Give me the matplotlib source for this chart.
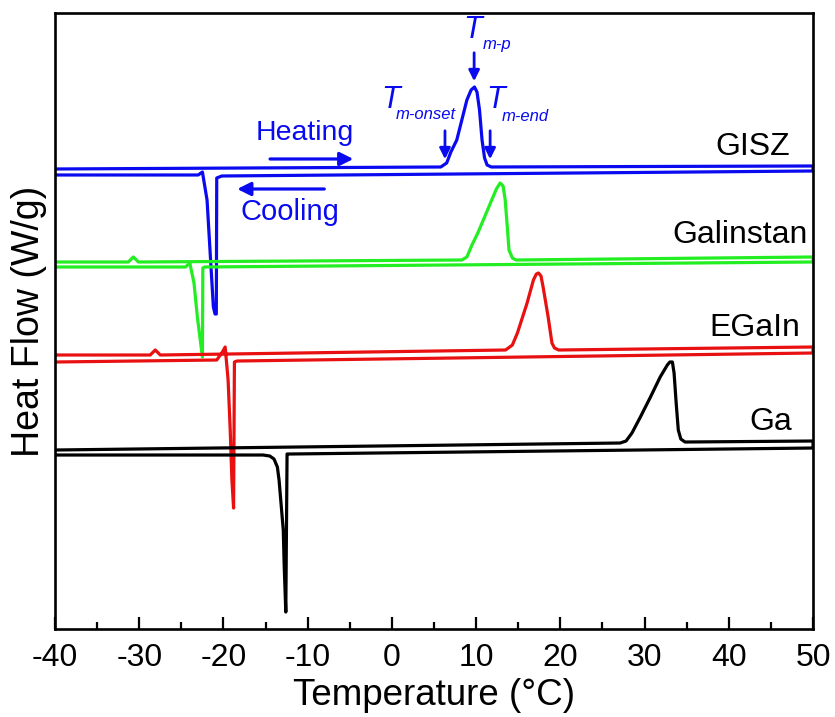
import numpy as np
import matplotlib.pyplot as plt
from matplotlib.ticker import MultipleLocator

plt.rcParams['font.family'] = ['Liberation Sans', 'DejaVu Sans']
plt.rcParams['axes.unicode_minus'] = False

# heating (upper) and cooling (lower) traces, temperature in C, heat flow in W/g (offset)
gisz_heat_T = [-40, 5.8, 6.5, 7.0, 7.7, 8.3, 8.9, 9.4, 9.8, 10.1, 10.4, 10.7, 11.0, 11.3, 11.8, 50]
gisz_heat_HF = [4.60, 4.62, 4.66, 4.77, 4.89, 5.09, 5.29, 5.39, 5.42, 5.37, 5.19, 4.89, 4.71, 4.64, 4.62, 4.63]
gisz_cool_T = [-40, -23.0, -22.5, -21.95, -21.6, -21.2, -21.0, -20.85, -20.8, -20.2, 50]
gisz_cool_HF = [4.54, 4.54, 4.57, 4.29, 3.79, 3.22, 3.15, 3.15, 4.51, 4.53, 4.58]

galin_heat_T = [-40, -31.3, -30.7, -30.1, 8.3, 8.9, 9.5, 10.2, 11.7, 12.4, 12.85, 13.2, 13.45, 13.7, 13.9, 14.3, 14.75, 50]
galin_heat_HF = [3.67, 3.67, 3.72, 3.67, 3.69, 3.72, 3.84, 3.96, 4.26, 4.40, 4.46, 4.43, 4.29, 4.02, 3.79, 3.71, 3.69, 3.72]
galin_cool_T = [-40, -24.5, -24.0, -23.5, -23.1, -22.5, -22.45, -22.2, 50]
galin_cool_HF = [3.62, 3.62, 3.66, 3.46, 3.12, 2.72, 3.61, 3.62, 3.67]

egain_heat_T = [-40, -28.7, -28.1, -27.5, 13.5, 14.3, 14.9, 16.05, 16.8, 17.15, 17.4, 17.7, 17.95, 18.55, 19.0, 19.3, 19.8, 50]
egain_heat_HF = [2.74, 2.74, 2.79, 2.74, 2.79, 2.84, 2.96, 3.26, 3.49, 3.55, 3.56, 3.53, 3.42, 3.12, 2.86, 2.81, 2.79, 2.82]
egain_cool_T = [-40, -20.8, -20.2, -19.8, -19.45, -19.2, -19.0, -18.8, -18.7, -18.4, 50]
egain_cool_HF = [2.67, 2.69, 2.76, 2.82, 2.49, 1.99, 1.49, 1.21, 2.67, 2.68, 2.76]

ga_heat_T = [-40, 27.1, 27.8, 28.5, 29.5, 30.7, 31.85, 32.7, 33.0, 33.3, 33.5, 33.75, 34.0, 34.3, 34.8, 50]
ga_heat_HF = [1.79, 1.86, 1.88, 1.96, 2.12, 2.32, 2.52, 2.64, 2.67, 2.67, 2.56, 2.26, 1.99, 1.90, 1.87, 1.88]
ga_cool_T = [-40, -15.3, -14.5, -14.0, -13.6, -13.4, -13.2, -12.9, -12.8, -12.6, -12.45, -12.2, 50]
ga_cool_HF = [1.74, 1.74, 1.73, 1.70, 1.62, 1.49, 1.29, 0.99, 0.66, 0.17, 1.75, 1.75, 1.81]

samples = ['GISZ', 'Galinstan', 'EGaIn', 'Ga']
colors = ['#0a0af0', '#22ee22', '#e81010', 'black']
heat_T = [gisz_heat_T, galin_heat_T, egain_heat_T, ga_heat_T]
heat_HF = [gisz_heat_HF, galin_heat_HF, egain_heat_HF, ga_heat_HF]
cool_T = [gisz_cool_T, galin_cool_T, egain_cool_T, ga_cool_T]
cool_HF = [gisz_cool_HF, galin_cool_HF, egain_cool_HF, ga_cool_HF]
label_xy = [(47.3, 4.82), (49.4, 3.94), (48.5, 3.01), (47.5, 2.07)]

fig = plt.figure(figsize=(8.35, 7.17), dpi=100)
ax = fig.add_axes([0.0659, 0.1227, 0.9078, 0.8592])

for i in range(4):
    # one loop: heating from -40 to 50, then cooling back
    T = list(heat_T[i]) + list(cool_T[i])[::-1]
    HF = list(heat_HF[i]) + list(cool_HF[i])[::-1]
    ax.plot(T, HF, color=colors[i], lw=2.3, solid_joinstyle='round')
    ax.text(label_xy[i][0], label_xy[i][1], samples[i], fontsize=23,
            ha='right', va='center')

blue = '#0a0af0'
# heating / cooling arrows
ax.text(-10.3, 4.96, 'Heating', color=blue, fontsize=20.5, ha='center', va='center')
ax.annotate('', xy=(-4.25, 4.70), xytext=(-14.8, 4.70),
            arrowprops=dict(arrowstyle='-|>', color=blue, lw=2.3, mutation_scale=20))
ax.text(-12.1, 4.17, 'Cooling', color=blue, fontsize=21, ha='center', va='center')
ax.annotate('', xy=(-18.7, 4.40), xytext=(-7.7, 4.40),
            arrowprops=dict(arrowstyle='-|>', color=blue, lw=2.3, mutation_scale=20))

# characteristic temperatures
marks = [('m-p', 9.76, 5.79, 5.45, 9.6, 5.99, 10.8, 5.84),
         ('m-onset', 6.3, 5.01, 4.67, -0.2, 5.29, 0.5, 5.14),
         ('m-end', 11.66, 5.01, 4.67, 12.3, 5.29, 13.0, 5.12)]
for sub, x, y0, y1, tx, ty, sx, sy in marks:
    ax.annotate('', xy=(x, y1), xytext=(x, y0),
                arrowprops=dict(arrowstyle='-|>', color=blue, lw=2.0, mutation_scale=16))
    ax.text(tx, ty, 'T', color=blue, fontsize=22, style='italic', ha='center', va='center')
    ax.text(sx, sy, sub, color=blue, fontsize=12, style='italic', ha='left', va='center')

ax.set_xlim(-40, 50)
ax.set_ylim(0, 6.16)
ax.xaxis.set_major_locator(MultipleLocator(10))
ax.xaxis.set_minor_locator(MultipleLocator(5))
ax.tick_params(axis='x', which='both', direction='in', top=False, labelsize=23, pad=10)
ax.tick_params(axis='x', which='major', length=9, width=1.6)
ax.tick_params(axis='x', which='minor', length=5, width=1.6)
ax.set_yticks([])
for s in ax.spines.values():
    s.set_linewidth(1.9)

ax.set_xlabel('Temperature (\u00b0C)', fontsize=26.5, labelpad=4)
ax.set_ylabel('Heat Flow (W/g)', fontsize=27, labelpad=6)

plt.savefig('out.png', dpi=100)
